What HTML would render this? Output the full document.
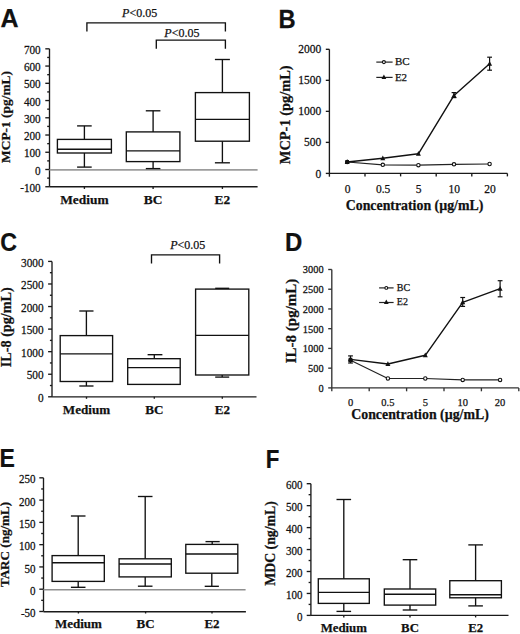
<!DOCTYPE html>
<html><head><meta charset="utf-8"><style>
html,body{margin:0;padding:0;background:#fff;}
body{width:520px;height:634px;overflow:hidden;font-family:"Liberation Serif", serif;}
svg{display:block;}
text{stroke:#1a1a1a;stroke-width:0.25px;paint-order:stroke;}
</style></head><body>
<svg width="520" height="634" viewBox="0 0 520 634" fill="#111">
<text x="0" y="0" transform="translate(0.50,27.00) scale(1.0,1)" font-family="&quot;Liberation Sans&quot;, sans-serif" font-size="25" font-weight="bold">A</text>
<line x1="49.50" y1="48.82" x2="49.50" y2="186.74" stroke="#1a1a1a" stroke-width="1.35"/>
<line x1="45.30" y1="48.82" x2="49.50" y2="48.82" stroke="#1a1a1a" stroke-width="1.35"/>
<text x="0" y="0" transform="translate(40.70,53.92) scale(1,1.05)" font-family="&quot;Liberation Serif&quot;, serif" font-size="11.2" font-weight="normal" text-anchor="end" >700</text>
<line x1="45.30" y1="66.06" x2="49.50" y2="66.06" stroke="#1a1a1a" stroke-width="1.35"/>
<text x="0" y="0" transform="translate(40.70,71.16) scale(1,1.05)" font-family="&quot;Liberation Serif&quot;, serif" font-size="11.2" font-weight="normal" text-anchor="end" >600</text>
<line x1="45.30" y1="83.30" x2="49.50" y2="83.30" stroke="#1a1a1a" stroke-width="1.35"/>
<text x="0" y="0" transform="translate(40.70,88.40) scale(1,1.05)" font-family="&quot;Liberation Serif&quot;, serif" font-size="11.2" font-weight="normal" text-anchor="end" >500</text>
<line x1="45.30" y1="100.54" x2="49.50" y2="100.54" stroke="#1a1a1a" stroke-width="1.35"/>
<text x="0" y="0" transform="translate(40.70,105.64) scale(1,1.05)" font-family="&quot;Liberation Serif&quot;, serif" font-size="11.2" font-weight="normal" text-anchor="end" >400</text>
<line x1="45.30" y1="117.78" x2="49.50" y2="117.78" stroke="#1a1a1a" stroke-width="1.35"/>
<text x="0" y="0" transform="translate(40.70,122.88) scale(1,1.05)" font-family="&quot;Liberation Serif&quot;, serif" font-size="11.2" font-weight="normal" text-anchor="end" >300</text>
<line x1="45.30" y1="135.02" x2="49.50" y2="135.02" stroke="#1a1a1a" stroke-width="1.35"/>
<text x="0" y="0" transform="translate(40.70,140.12) scale(1,1.05)" font-family="&quot;Liberation Serif&quot;, serif" font-size="11.2" font-weight="normal" text-anchor="end" >200</text>
<line x1="45.30" y1="152.26" x2="49.50" y2="152.26" stroke="#1a1a1a" stroke-width="1.35"/>
<text x="0" y="0" transform="translate(40.70,157.36) scale(1,1.05)" font-family="&quot;Liberation Serif&quot;, serif" font-size="11.2" font-weight="normal" text-anchor="end" >100</text>
<line x1="45.30" y1="169.50" x2="49.50" y2="169.50" stroke="#1a1a1a" stroke-width="1.35"/>
<text x="0" y="0" transform="translate(40.70,174.60) scale(1,1.05)" font-family="&quot;Liberation Serif&quot;, serif" font-size="11.2" font-weight="normal" text-anchor="end" >0</text>
<line x1="45.30" y1="186.74" x2="49.50" y2="186.74" stroke="#1a1a1a" stroke-width="1.35"/>
<text x="0" y="0" transform="translate(40.70,191.84) scale(1,1.05)" font-family="&quot;Liberation Serif&quot;, serif" font-size="11.2" font-weight="normal" text-anchor="end" >-100</text>
<line x1="47.20" y1="57.44" x2="49.50" y2="57.44" stroke="#1a1a1a" stroke-width="1.35"/>
<line x1="47.20" y1="74.68" x2="49.50" y2="74.68" stroke="#1a1a1a" stroke-width="1.35"/>
<line x1="47.20" y1="91.92" x2="49.50" y2="91.92" stroke="#1a1a1a" stroke-width="1.35"/>
<line x1="47.20" y1="109.16" x2="49.50" y2="109.16" stroke="#1a1a1a" stroke-width="1.35"/>
<line x1="47.20" y1="126.40" x2="49.50" y2="126.40" stroke="#1a1a1a" stroke-width="1.35"/>
<line x1="47.20" y1="143.64" x2="49.50" y2="143.64" stroke="#1a1a1a" stroke-width="1.35"/>
<line x1="47.20" y1="160.88" x2="49.50" y2="160.88" stroke="#1a1a1a" stroke-width="1.35"/>
<line x1="47.20" y1="178.12" x2="49.50" y2="178.12" stroke="#1a1a1a" stroke-width="1.35"/>
<line x1="49.50" y1="169.90" x2="257.60" y2="169.90" stroke="#9c9c9c" stroke-width="1.8"/>
<line x1="49.50" y1="186.74" x2="257.60" y2="186.74" stroke="#1a1a1a" stroke-width="1.35"/>
<line x1="84.40" y1="186.74" x2="84.40" y2="188.94" stroke="#1a1a1a" stroke-width="1.35"/>
<line x1="153.10" y1="186.74" x2="153.10" y2="188.94" stroke="#1a1a1a" stroke-width="1.35"/>
<line x1="222.40" y1="186.74" x2="222.40" y2="188.94" stroke="#1a1a1a" stroke-width="1.35"/>
<line x1="84.40" y1="125.90" x2="84.40" y2="139.40" stroke="#111" stroke-width="1.35"/>
<line x1="77.10" y1="125.90" x2="91.70" y2="125.90" stroke="#111" stroke-width="1.35"/>
<line x1="84.40" y1="153.00" x2="84.40" y2="167.10" stroke="#111" stroke-width="1.35"/>
<line x1="77.10" y1="167.10" x2="91.70" y2="167.10" stroke="#111" stroke-width="1.35"/>
<rect x="57.40" y="139.40" width="54.00" height="13.60" fill="none" stroke="#111" stroke-width="1.35"/>
<line x1="57.40" y1="149.20" x2="111.40" y2="149.20" stroke="#111" stroke-width="1.35"/>
<line x1="153.10" y1="110.80" x2="153.10" y2="131.90" stroke="#111" stroke-width="1.35"/>
<line x1="145.80" y1="110.80" x2="160.40" y2="110.80" stroke="#111" stroke-width="1.35"/>
<line x1="153.10" y1="161.60" x2="153.10" y2="168.60" stroke="#111" stroke-width="1.35"/>
<line x1="145.80" y1="168.60" x2="160.40" y2="168.60" stroke="#111" stroke-width="1.35"/>
<rect x="126.30" y="131.90" width="53.60" height="29.70" fill="none" stroke="#111" stroke-width="1.35"/>
<line x1="126.30" y1="150.90" x2="179.90" y2="150.90" stroke="#111" stroke-width="1.35"/>
<line x1="222.40" y1="59.50" x2="222.40" y2="92.60" stroke="#111" stroke-width="1.35"/>
<line x1="214.90" y1="59.50" x2="229.90" y2="59.50" stroke="#111" stroke-width="1.35"/>
<line x1="222.40" y1="141.20" x2="222.40" y2="162.80" stroke="#111" stroke-width="1.35"/>
<line x1="214.90" y1="162.80" x2="229.90" y2="162.80" stroke="#111" stroke-width="1.35"/>
<rect x="195.40" y="92.60" width="54.00" height="48.60" fill="none" stroke="#111" stroke-width="1.35"/>
<line x1="195.40" y1="119.40" x2="249.40" y2="119.40" stroke="#111" stroke-width="1.35"/>
<text x="84.40" y="204.00" font-family="&quot;Liberation Serif&quot;, serif" font-size="13.4" font-weight="bold" text-anchor="middle" >Medium</text>
<text x="153.10" y="204.00" font-family="&quot;Liberation Serif&quot;, serif" font-size="13.4" font-weight="bold" text-anchor="middle" >BC</text>
<text x="222.40" y="204.00" font-family="&quot;Liberation Serif&quot;, serif" font-size="13.4" font-weight="bold" text-anchor="middle" >E2</text>
<text x="0" y="0" transform="translate(10.10,117.00) rotate(-90)" font-family="&quot;Liberation Serif&quot;, serif" font-size="13.4" font-weight="bold" text-anchor="middle">MCP-1 (pg/mL)</text>
<polyline points="86.90,31.50 86.90,22.80 225.40,22.80 225.40,31.50" fill="none" stroke="#111" stroke-width="1.35"/>
<text x="139.60" y="16.80" font-family="&quot;Liberation Serif&quot;, serif" font-size="12" text-anchor="middle"><tspan font-style="italic">P</tspan>&lt;0.05</text>
<polyline points="156.30,48.70 156.30,40.10 225.40,40.10 225.40,48.70" fill="none" stroke="#111" stroke-width="1.35"/>
<text x="181.90" y="36.60" font-family="&quot;Liberation Serif&quot;, serif" font-size="12" text-anchor="middle"><tspan font-style="italic">P</tspan>&lt;0.05</text>
<text x="0" y="0" transform="translate(278.50,27.80) scale(0.92,1)" font-family="&quot;Liberation Sans&quot;, sans-serif" font-size="25.8" font-weight="bold">B</text>
<line x1="329.40" y1="49.30" x2="329.40" y2="176.70" stroke="#1a1a1a" stroke-width="1.35"/>
<line x1="325.80" y1="49.30" x2="329.40" y2="49.30" stroke="#1a1a1a" stroke-width="1.35"/>
<text x="0" y="0" transform="translate(321.20,53.40) scale(1,1.05)" font-family="&quot;Liberation Serif&quot;, serif" font-size="11.5" font-weight="normal" text-anchor="end" >2000</text>
<line x1="325.80" y1="80.33" x2="329.40" y2="80.33" stroke="#1a1a1a" stroke-width="1.35"/>
<text x="0" y="0" transform="translate(321.20,84.42) scale(1,1.05)" font-family="&quot;Liberation Serif&quot;, serif" font-size="11.5" font-weight="normal" text-anchor="end" >1500</text>
<line x1="325.80" y1="111.35" x2="329.40" y2="111.35" stroke="#1a1a1a" stroke-width="1.35"/>
<text x="0" y="0" transform="translate(321.20,115.45) scale(1,1.05)" font-family="&quot;Liberation Serif&quot;, serif" font-size="11.5" font-weight="normal" text-anchor="end" >1000</text>
<line x1="325.80" y1="142.38" x2="329.40" y2="142.38" stroke="#1a1a1a" stroke-width="1.35"/>
<text x="0" y="0" transform="translate(321.20,146.47) scale(1,1.05)" font-family="&quot;Liberation Serif&quot;, serif" font-size="11.5" font-weight="normal" text-anchor="end" >500</text>
<line x1="325.80" y1="173.40" x2="329.40" y2="173.40" stroke="#1a1a1a" stroke-width="1.35"/>
<text x="0" y="0" transform="translate(321.20,177.50) scale(1,1.05)" font-family="&quot;Liberation Serif&quot;, serif" font-size="11.5" font-weight="normal" text-anchor="end" >0</text>
<line x1="329.40" y1="173.40" x2="507.40" y2="173.40" stroke="#1a1a1a" stroke-width="1.35"/>
<line x1="365.00" y1="173.40" x2="365.00" y2="176.40" stroke="#1a1a1a" stroke-width="1.35"/>
<line x1="400.60" y1="173.40" x2="400.60" y2="176.40" stroke="#1a1a1a" stroke-width="1.35"/>
<line x1="436.20" y1="173.40" x2="436.20" y2="176.40" stroke="#1a1a1a" stroke-width="1.35"/>
<line x1="471.80" y1="173.40" x2="471.80" y2="176.40" stroke="#1a1a1a" stroke-width="1.35"/>
<line x1="507.40" y1="173.40" x2="507.40" y2="176.40" stroke="#1a1a1a" stroke-width="1.35"/>
<text x="347.50" y="192.60" font-family="&quot;Liberation Serif&quot;, serif" font-size="11.5" font-weight="normal" text-anchor="middle" >0</text>
<text x="383.10" y="192.60" font-family="&quot;Liberation Serif&quot;, serif" font-size="11.5" font-weight="normal" text-anchor="middle" >0.5</text>
<text x="418.70" y="192.60" font-family="&quot;Liberation Serif&quot;, serif" font-size="11.5" font-weight="normal" text-anchor="middle" >5</text>
<text x="454.30" y="192.60" font-family="&quot;Liberation Serif&quot;, serif" font-size="11.5" font-weight="normal" text-anchor="middle" >10</text>
<text x="489.90" y="192.60" font-family="&quot;Liberation Serif&quot;, serif" font-size="11.5" font-weight="normal" text-anchor="middle" >20</text>
<text x="414.50" y="209.90" font-family="&quot;Liberation Serif&quot;, serif" font-size="13.85" font-weight="bold" text-anchor="middle" >Concentration (µg/mL)</text>
<text x="0" y="0" transform="translate(290.20,114.80) rotate(-90)" font-family="&quot;Liberation Serif&quot;, serif" font-size="14.4" font-weight="bold" text-anchor="middle">MCP-1 (pg/mL)</text>
<line x1="489.60" y1="57.20" x2="489.60" y2="70.20" stroke="#111" stroke-width="1.2"/>
<line x1="487.20" y1="57.20" x2="492.00" y2="57.20" stroke="#111" stroke-width="1.2"/>
<line x1="487.20" y1="70.20" x2="492.00" y2="70.20" stroke="#111" stroke-width="1.2"/>
<line x1="454.00" y1="92.60" x2="454.00" y2="97.60" stroke="#111" stroke-width="1.2"/>
<line x1="451.60" y1="92.60" x2="456.40" y2="92.60" stroke="#111" stroke-width="1.2"/>
<line x1="451.60" y1="97.60" x2="456.40" y2="97.60" stroke="#111" stroke-width="1.2"/>
<polyline points="347.20,162.00 382.80,164.80 418.40,165.20 454.00,164.30 489.60,164.00" fill="none" stroke="#222" stroke-width="1.2" stroke-linejoin="round"/>
<polyline points="347.20,162.00 382.80,158.30 418.40,153.80 454.00,95.40 489.60,63.80" fill="none" stroke="#111" stroke-width="1.4" stroke-linejoin="round"/>
<circle cx="347.20" cy="162.00" r="1.70" fill="#fff" stroke="#111" stroke-width="1.1"/>
<circle cx="382.80" cy="164.80" r="1.70" fill="#fff" stroke="#111" stroke-width="1.1"/>
<circle cx="418.40" cy="165.20" r="1.70" fill="#fff" stroke="#111" stroke-width="1.1"/>
<circle cx="454.00" cy="164.30" r="1.70" fill="#fff" stroke="#111" stroke-width="1.1"/>
<circle cx="489.60" cy="164.00" r="1.70" fill="#fff" stroke="#111" stroke-width="1.1"/>
<polygon points="347.20,159.25 349.70,164.00 344.70,164.00" fill="#111"/>
<polygon points="382.80,155.55 385.30,160.30 380.30,160.30" fill="#111"/>
<polygon points="418.40,151.05 420.90,155.80 415.90,155.80" fill="#111"/>
<polygon points="454.00,92.65 456.50,97.40 451.50,97.40" fill="#111"/>
<polygon points="489.60,61.05 492.10,65.80 487.10,65.80" fill="#111"/>
<rect x="345.40" y="160.20" width="3.60" height="3.60" fill="#111"/>
<line x1="376.30" y1="62.10" x2="392.60" y2="62.10" stroke="#222" stroke-width="1.2"/>
<circle cx="383.90" cy="62.10" r="1.50" fill="#fff" stroke="#111" stroke-width="1.1"/>
<line x1="376.30" y1="77.40" x2="392.60" y2="77.40" stroke="#222" stroke-width="1.2"/>
<polygon points="383.90,74.59 386.27,79.10 381.52,79.10" fill="#111"/>
<text x="394.90" y="65.00" font-family="&quot;Liberation Serif&quot;, serif" font-size="11" font-weight="normal" text-anchor="start" >BC</text>
<text x="394.90" y="80.50" font-family="&quot;Liberation Serif&quot;, serif" font-size="11" font-weight="normal" text-anchor="start" >E2</text>
<text x="0" y="0" transform="translate(0.30,251.30) scale(0.9,1)" font-family="&quot;Liberation Sans&quot;, sans-serif" font-size="25.8" font-weight="bold">C</text>
<line x1="52.00" y1="261.41" x2="52.00" y2="396.80" stroke="#1a1a1a" stroke-width="1.35"/>
<line x1="48.10" y1="261.41" x2="52.00" y2="261.41" stroke="#1a1a1a" stroke-width="1.35"/>
<text x="0" y="0" transform="translate(43.60,266.66) scale(1,1.05)" font-family="&quot;Liberation Serif&quot;, serif" font-size="11.3" font-weight="normal" text-anchor="end" >3000</text>
<line x1="48.10" y1="283.98" x2="52.00" y2="283.98" stroke="#1a1a1a" stroke-width="1.35"/>
<text x="0" y="0" transform="translate(43.60,289.23) scale(1,1.05)" font-family="&quot;Liberation Serif&quot;, serif" font-size="11.3" font-weight="normal" text-anchor="end" >2500</text>
<line x1="48.10" y1="306.54" x2="52.00" y2="306.54" stroke="#1a1a1a" stroke-width="1.35"/>
<text x="0" y="0" transform="translate(43.60,311.79) scale(1,1.05)" font-family="&quot;Liberation Serif&quot;, serif" font-size="11.3" font-weight="normal" text-anchor="end" >2000</text>
<line x1="48.10" y1="329.11" x2="52.00" y2="329.11" stroke="#1a1a1a" stroke-width="1.35"/>
<text x="0" y="0" transform="translate(43.60,334.36) scale(1,1.05)" font-family="&quot;Liberation Serif&quot;, serif" font-size="11.3" font-weight="normal" text-anchor="end" >1500</text>
<line x1="48.10" y1="351.67" x2="52.00" y2="351.67" stroke="#1a1a1a" stroke-width="1.35"/>
<text x="0" y="0" transform="translate(43.60,356.92) scale(1,1.05)" font-family="&quot;Liberation Serif&quot;, serif" font-size="11.3" font-weight="normal" text-anchor="end" >1000</text>
<line x1="48.10" y1="374.24" x2="52.00" y2="374.24" stroke="#1a1a1a" stroke-width="1.35"/>
<text x="0" y="0" transform="translate(43.60,379.49) scale(1,1.05)" font-family="&quot;Liberation Serif&quot;, serif" font-size="11.3" font-weight="normal" text-anchor="end" >500</text>
<line x1="48.10" y1="396.80" x2="52.00" y2="396.80" stroke="#1a1a1a" stroke-width="1.35"/>
<text x="0" y="0" transform="translate(43.60,402.05) scale(1,1.05)" font-family="&quot;Liberation Serif&quot;, serif" font-size="11.3" font-weight="normal" text-anchor="end" >0</text>
<line x1="49.90" y1="272.69" x2="52.00" y2="272.69" stroke="#1a1a1a" stroke-width="1.35"/>
<line x1="49.90" y1="295.26" x2="52.00" y2="295.26" stroke="#1a1a1a" stroke-width="1.35"/>
<line x1="49.90" y1="317.82" x2="52.00" y2="317.82" stroke="#1a1a1a" stroke-width="1.35"/>
<line x1="49.90" y1="340.39" x2="52.00" y2="340.39" stroke="#1a1a1a" stroke-width="1.35"/>
<line x1="49.90" y1="362.95" x2="52.00" y2="362.95" stroke="#1a1a1a" stroke-width="1.35"/>
<line x1="49.90" y1="385.52" x2="52.00" y2="385.52" stroke="#1a1a1a" stroke-width="1.35"/>
<line x1="52.00" y1="396.80" x2="256.50" y2="396.80" stroke="#1a1a1a" stroke-width="1.35"/>
<line x1="86.50" y1="396.80" x2="86.50" y2="398.80" stroke="#1a1a1a" stroke-width="1.35"/>
<line x1="154.30" y1="396.80" x2="154.30" y2="398.80" stroke="#1a1a1a" stroke-width="1.35"/>
<line x1="222.30" y1="396.80" x2="222.30" y2="398.80" stroke="#1a1a1a" stroke-width="1.35"/>
<line x1="86.40" y1="311.00" x2="86.40" y2="335.60" stroke="#111" stroke-width="1.35"/>
<line x1="79.30" y1="311.00" x2="93.50" y2="311.00" stroke="#111" stroke-width="1.35"/>
<line x1="86.40" y1="381.50" x2="86.40" y2="386.00" stroke="#111" stroke-width="1.35"/>
<line x1="79.30" y1="386.00" x2="93.50" y2="386.00" stroke="#111" stroke-width="1.35"/>
<rect x="60.20" y="335.60" width="52.40" height="45.90" fill="none" stroke="#111" stroke-width="1.35"/>
<line x1="60.20" y1="353.80" x2="112.60" y2="353.80" stroke="#111" stroke-width="1.35"/>
<line x1="154.30" y1="354.70" x2="154.30" y2="358.70" stroke="#111" stroke-width="1.35"/>
<line x1="147.60" y1="354.70" x2="162.40" y2="354.70" stroke="#111" stroke-width="1.35"/>
<rect x="127.70" y="358.70" width="52.50" height="25.70" fill="none" stroke="#111" stroke-width="1.35"/>
<line x1="127.70" y1="367.60" x2="180.20" y2="367.60" stroke="#111" stroke-width="1.35"/>
<line x1="222.20" y1="288.30" x2="222.20" y2="289.10" stroke="#111" stroke-width="1.35"/>
<line x1="215.20" y1="288.30" x2="229.20" y2="288.30" stroke="#111" stroke-width="1.35"/>
<line x1="222.20" y1="375.00" x2="222.20" y2="377.10" stroke="#111" stroke-width="1.35"/>
<line x1="215.20" y1="377.10" x2="229.20" y2="377.10" stroke="#111" stroke-width="1.35"/>
<rect x="195.60" y="289.10" width="53.20" height="85.90" fill="none" stroke="#111" stroke-width="1.35"/>
<line x1="195.60" y1="335.30" x2="248.80" y2="335.30" stroke="#111" stroke-width="1.35"/>
<text x="86.50" y="414.40" font-family="&quot;Liberation Serif&quot;, serif" font-size="13.1" font-weight="bold" text-anchor="middle" >Medium</text>
<text x="154.30" y="414.40" font-family="&quot;Liberation Serif&quot;, serif" font-size="13.1" font-weight="bold" text-anchor="middle" >BC</text>
<text x="222.30" y="414.40" font-family="&quot;Liberation Serif&quot;, serif" font-size="13.1" font-weight="bold" text-anchor="middle" >E2</text>
<text x="0" y="0" transform="translate(10.60,327.20) rotate(-90)" font-family="&quot;Liberation Serif&quot;, serif" font-size="14.2" font-weight="bold" text-anchor="middle">IL-8 (pg/mL)</text>
<polyline points="151.50,263.40 151.50,254.90 219.60,254.90 219.60,263.40" fill="none" stroke="#111" stroke-width="1.35"/>
<text x="187.80" y="249.30" font-family="&quot;Liberation Serif&quot;, serif" font-size="12" text-anchor="middle"><tspan font-style="italic">P</tspan>&lt;0.05</text>
<text x="0" y="0" transform="translate(284.90,251.20) scale(0.93,1)" font-family="&quot;Liberation Sans&quot;, sans-serif" font-size="25.8" font-weight="bold">D</text>
<line x1="331.80" y1="269.49" x2="331.80" y2="391.30" stroke="#333" stroke-width="1.35"/>
<line x1="328.20" y1="269.49" x2="331.80" y2="269.49" stroke="#333" stroke-width="1.35"/>
<text x="0" y="0" transform="translate(323.60,273.49) scale(1,1.05)" font-family="&quot;Liberation Serif&quot;, serif" font-size="10.4" font-weight="normal" text-anchor="end" >3000</text>
<line x1="328.20" y1="289.22" x2="331.80" y2="289.22" stroke="#333" stroke-width="1.35"/>
<text x="0" y="0" transform="translate(323.60,293.22) scale(1,1.05)" font-family="&quot;Liberation Serif&quot;, serif" font-size="10.4" font-weight="normal" text-anchor="end" >2500</text>
<line x1="328.20" y1="308.96" x2="331.80" y2="308.96" stroke="#333" stroke-width="1.35"/>
<text x="0" y="0" transform="translate(323.60,312.96) scale(1,1.05)" font-family="&quot;Liberation Serif&quot;, serif" font-size="10.4" font-weight="normal" text-anchor="end" >2000</text>
<line x1="328.20" y1="328.69" x2="331.80" y2="328.69" stroke="#333" stroke-width="1.35"/>
<text x="0" y="0" transform="translate(323.60,332.69) scale(1,1.05)" font-family="&quot;Liberation Serif&quot;, serif" font-size="10.4" font-weight="normal" text-anchor="end" >1500</text>
<line x1="328.20" y1="348.43" x2="331.80" y2="348.43" stroke="#333" stroke-width="1.35"/>
<text x="0" y="0" transform="translate(323.60,352.43) scale(1,1.05)" font-family="&quot;Liberation Serif&quot;, serif" font-size="10.4" font-weight="normal" text-anchor="end" >1000</text>
<line x1="328.20" y1="368.16" x2="331.80" y2="368.16" stroke="#333" stroke-width="1.35"/>
<text x="0" y="0" transform="translate(323.60,372.16) scale(1,1.05)" font-family="&quot;Liberation Serif&quot;, serif" font-size="10.4" font-weight="normal" text-anchor="end" >500</text>
<line x1="328.20" y1="387.90" x2="331.80" y2="387.90" stroke="#333" stroke-width="1.35"/>
<text x="0" y="0" transform="translate(323.60,391.90) scale(1,1.05)" font-family="&quot;Liberation Serif&quot;, serif" font-size="10.4" font-weight="normal" text-anchor="end" >0</text>
<line x1="331.80" y1="387.90" x2="518.80" y2="387.90" stroke="#333" stroke-width="1.35"/>
<line x1="369.20" y1="387.90" x2="369.20" y2="391.30" stroke="#333" stroke-width="1.35"/>
<line x1="406.60" y1="387.90" x2="406.60" y2="391.30" stroke="#333" stroke-width="1.35"/>
<line x1="444.00" y1="387.90" x2="444.00" y2="391.30" stroke="#333" stroke-width="1.35"/>
<line x1="481.40" y1="387.90" x2="481.40" y2="391.30" stroke="#333" stroke-width="1.35"/>
<line x1="518.80" y1="387.90" x2="518.80" y2="391.30" stroke="#333" stroke-width="1.35"/>
<text x="350.50" y="405.80" font-family="&quot;Liberation Serif&quot;, serif" font-size="10.5" font-weight="normal" text-anchor="middle" >0</text>
<text x="387.90" y="405.80" font-family="&quot;Liberation Serif&quot;, serif" font-size="10.5" font-weight="normal" text-anchor="middle" >0.5</text>
<text x="425.30" y="405.80" font-family="&quot;Liberation Serif&quot;, serif" font-size="10.5" font-weight="normal" text-anchor="middle" >5</text>
<text x="462.70" y="405.80" font-family="&quot;Liberation Serif&quot;, serif" font-size="10.5" font-weight="normal" text-anchor="middle" >10</text>
<text x="500.10" y="405.80" font-family="&quot;Liberation Serif&quot;, serif" font-size="10.5" font-weight="normal" text-anchor="middle" >20</text>
<text x="420.00" y="419.20" font-family="&quot;Liberation Serif&quot;, serif" font-size="13.85" font-weight="bold" text-anchor="middle" >Concentration (µg/mL)</text>
<text x="0" y="0" transform="translate(295.50,321.00) rotate(-90)" font-family="&quot;Liberation Serif&quot;, serif" font-size="15" font-weight="bold" text-anchor="middle">IL-8 (pg/mL)</text>
<line x1="350.50" y1="355.90" x2="350.50" y2="363.00" stroke="#111" stroke-width="1.2"/>
<line x1="348.10" y1="355.90" x2="352.90" y2="355.90" stroke="#111" stroke-width="1.2"/>
<line x1="348.10" y1="363.00" x2="352.90" y2="363.00" stroke="#111" stroke-width="1.2"/>
<line x1="462.70" y1="297.50" x2="462.70" y2="306.40" stroke="#111" stroke-width="1.2"/>
<line x1="460.30" y1="297.50" x2="465.10" y2="297.50" stroke="#111" stroke-width="1.2"/>
<line x1="460.30" y1="306.40" x2="465.10" y2="306.40" stroke="#111" stroke-width="1.2"/>
<line x1="500.10" y1="280.70" x2="500.10" y2="296.80" stroke="#111" stroke-width="1.2"/>
<line x1="497.70" y1="280.70" x2="502.50" y2="280.70" stroke="#111" stroke-width="1.2"/>
<line x1="497.70" y1="296.80" x2="502.50" y2="296.80" stroke="#111" stroke-width="1.2"/>
<polyline points="350.50,360.20 387.90,378.50 425.30,378.50 462.70,379.90 500.10,379.90" fill="none" stroke="#222" stroke-width="1.2" stroke-linejoin="round"/>
<polyline points="350.50,359.40 387.90,364.00 425.30,355.30 462.70,302.30 500.10,288.70" fill="none" stroke="#111" stroke-width="1.4" stroke-linejoin="round"/>
<circle cx="350.50" cy="360.20" r="1.70" fill="#fff" stroke="#111" stroke-width="1.1"/>
<circle cx="387.90" cy="378.50" r="1.70" fill="#fff" stroke="#111" stroke-width="1.1"/>
<circle cx="425.30" cy="378.50" r="1.70" fill="#fff" stroke="#111" stroke-width="1.1"/>
<circle cx="462.70" cy="379.90" r="1.70" fill="#fff" stroke="#111" stroke-width="1.1"/>
<circle cx="500.10" cy="379.90" r="1.70" fill="#fff" stroke="#111" stroke-width="1.1"/>
<polygon points="350.50,356.65 353.00,361.40 348.00,361.40" fill="#111"/>
<polygon points="387.90,361.25 390.40,366.00 385.40,366.00" fill="#111"/>
<polygon points="425.30,352.55 427.80,357.30 422.80,357.30" fill="#111"/>
<polygon points="462.70,299.55 465.20,304.30 460.20,304.30" fill="#111"/>
<polygon points="500.10,285.95 502.60,290.70 497.60,290.70" fill="#111"/>
<rect x="348.70" y="357.80" width="3.60" height="3.60" fill="#111"/>
<line x1="379.10" y1="287.90" x2="393.60" y2="287.90" stroke="#222" stroke-width="1.2"/>
<circle cx="386.30" cy="287.90" r="1.40" fill="#fff" stroke="#111" stroke-width="1.1"/>
<line x1="379.10" y1="302.50" x2="393.60" y2="302.50" stroke="#222" stroke-width="1.2"/>
<polygon points="386.30,299.59 388.68,304.10 383.93,304.10" fill="#111"/>
<text x="396.80" y="291.20" font-family="&quot;Liberation Serif&quot;, serif" font-size="10.0" font-weight="normal" text-anchor="start" >BC</text>
<text x="396.80" y="305.10" font-family="&quot;Liberation Serif&quot;, serif" font-size="10.0" font-weight="normal" text-anchor="start" >E2</text>
<text x="0" y="0" transform="translate(-0.40,467.40) scale(0.91,1)" font-family="&quot;Liberation Sans&quot;, sans-serif" font-size="25.3" font-weight="bold">E</text>
<line x1="43.50" y1="477.83" x2="43.50" y2="611.48" stroke="#1a1a1a" stroke-width="1.35"/>
<line x1="39.30" y1="477.83" x2="43.50" y2="477.83" stroke="#1a1a1a" stroke-width="1.35"/>
<text x="0" y="0" transform="translate(35.60,483.43) scale(1,1.05)" font-family="&quot;Liberation Serif&quot;, serif" font-size="11" font-weight="normal" text-anchor="end" >250</text>
<line x1="39.30" y1="500.10" x2="43.50" y2="500.10" stroke="#1a1a1a" stroke-width="1.35"/>
<text x="0" y="0" transform="translate(35.60,505.70) scale(1,1.05)" font-family="&quot;Liberation Serif&quot;, serif" font-size="11" font-weight="normal" text-anchor="end" >200</text>
<line x1="39.30" y1="522.38" x2="43.50" y2="522.38" stroke="#1a1a1a" stroke-width="1.35"/>
<text x="0" y="0" transform="translate(35.60,527.98) scale(1,1.05)" font-family="&quot;Liberation Serif&quot;, serif" font-size="11" font-weight="normal" text-anchor="end" >150</text>
<line x1="39.30" y1="544.65" x2="43.50" y2="544.65" stroke="#1a1a1a" stroke-width="1.35"/>
<text x="0" y="0" transform="translate(35.60,550.25) scale(1,1.05)" font-family="&quot;Liberation Serif&quot;, serif" font-size="11" font-weight="normal" text-anchor="end" >100</text>
<line x1="39.30" y1="566.93" x2="43.50" y2="566.93" stroke="#1a1a1a" stroke-width="1.35"/>
<text x="0" y="0" transform="translate(35.60,572.53) scale(1,1.05)" font-family="&quot;Liberation Serif&quot;, serif" font-size="11" font-weight="normal" text-anchor="end" >50</text>
<line x1="39.30" y1="589.20" x2="43.50" y2="589.20" stroke="#1a1a1a" stroke-width="1.35"/>
<text x="0" y="0" transform="translate(35.60,594.80) scale(1,1.05)" font-family="&quot;Liberation Serif&quot;, serif" font-size="11" font-weight="normal" text-anchor="end" >0</text>
<line x1="39.30" y1="611.48" x2="43.50" y2="611.48" stroke="#1a1a1a" stroke-width="1.35"/>
<text x="0" y="0" transform="translate(35.60,617.08) scale(1,1.05)" font-family="&quot;Liberation Serif&quot;, serif" font-size="11" font-weight="normal" text-anchor="end" >-50</text>
<line x1="41.20" y1="488.96" x2="43.50" y2="488.96" stroke="#1a1a1a" stroke-width="1.35"/>
<line x1="41.20" y1="511.24" x2="43.50" y2="511.24" stroke="#1a1a1a" stroke-width="1.35"/>
<line x1="41.20" y1="533.51" x2="43.50" y2="533.51" stroke="#1a1a1a" stroke-width="1.35"/>
<line x1="41.20" y1="555.79" x2="43.50" y2="555.79" stroke="#1a1a1a" stroke-width="1.35"/>
<line x1="41.20" y1="578.06" x2="43.50" y2="578.06" stroke="#1a1a1a" stroke-width="1.35"/>
<line x1="41.20" y1="600.34" x2="43.50" y2="600.34" stroke="#1a1a1a" stroke-width="1.35"/>
<line x1="43.50" y1="589.70" x2="245.60" y2="589.70" stroke="#8f8f8f" stroke-width="1.4"/>
<line x1="43.50" y1="611.70" x2="245.90" y2="611.70" stroke="#1a1a1a" stroke-width="1.35"/>
<line x1="78.40" y1="611.48" x2="78.40" y2="613.48" stroke="#1a1a1a" stroke-width="1.35"/>
<line x1="145.60" y1="611.48" x2="145.60" y2="613.48" stroke="#1a1a1a" stroke-width="1.35"/>
<line x1="212.00" y1="611.48" x2="212.00" y2="613.48" stroke="#1a1a1a" stroke-width="1.35"/>
<line x1="78.20" y1="516.00" x2="78.20" y2="555.60" stroke="#111" stroke-width="1.35"/>
<line x1="70.90" y1="516.00" x2="85.50" y2="516.00" stroke="#111" stroke-width="1.35"/>
<line x1="78.20" y1="581.40" x2="78.20" y2="587.30" stroke="#111" stroke-width="1.35"/>
<line x1="70.90" y1="587.30" x2="85.50" y2="587.30" stroke="#111" stroke-width="1.35"/>
<rect x="52.10" y="555.60" width="52.20" height="25.80" fill="none" stroke="#111" stroke-width="1.35"/>
<line x1="52.10" y1="562.70" x2="104.30" y2="562.70" stroke="#111" stroke-width="1.35"/>
<line x1="145.20" y1="496.50" x2="145.20" y2="558.80" stroke="#111" stroke-width="1.35"/>
<line x1="137.90" y1="496.50" x2="152.50" y2="496.50" stroke="#111" stroke-width="1.35"/>
<line x1="145.20" y1="576.90" x2="145.20" y2="586.20" stroke="#111" stroke-width="1.35"/>
<line x1="137.90" y1="586.20" x2="152.50" y2="586.20" stroke="#111" stroke-width="1.35"/>
<rect x="119.10" y="558.80" width="52.20" height="18.10" fill="none" stroke="#111" stroke-width="1.35"/>
<line x1="119.10" y1="564.00" x2="171.30" y2="564.00" stroke="#111" stroke-width="1.35"/>
<line x1="212.20" y1="541.60" x2="212.20" y2="544.40" stroke="#111" stroke-width="1.35"/>
<line x1="205.50" y1="541.60" x2="219.70" y2="541.60" stroke="#111" stroke-width="1.35"/>
<line x1="211.80" y1="573.20" x2="211.80" y2="586.30" stroke="#111" stroke-width="1.35"/>
<line x1="204.70" y1="586.30" x2="218.90" y2="586.30" stroke="#111" stroke-width="1.35"/>
<rect x="185.80" y="544.40" width="52.00" height="28.80" fill="none" stroke="#111" stroke-width="1.35"/>
<line x1="185.80" y1="554.00" x2="237.80" y2="554.00" stroke="#111" stroke-width="1.35"/>
<text x="78.40" y="628.30" font-family="&quot;Liberation Serif&quot;, serif" font-size="13" font-weight="bold" text-anchor="middle" >Medium</text>
<text x="145.60" y="628.30" font-family="&quot;Liberation Serif&quot;, serif" font-size="13" font-weight="bold" text-anchor="middle" >BC</text>
<text x="212.00" y="628.30" font-family="&quot;Liberation Serif&quot;, serif" font-size="13" font-weight="bold" text-anchor="middle" >E2</text>
<text x="0" y="0" transform="translate(8.80,544.50) rotate(-90)" font-family="&quot;Liberation Serif&quot;, serif" font-size="13.1" font-weight="bold" text-anchor="middle">TARC (ng/mL)</text>
<text x="0" y="0" transform="translate(265.80,468.10) scale(0.88,1)" font-family="&quot;Liberation Sans&quot;, sans-serif" font-size="25.3" font-weight="bold">F</text>
<line x1="310.90" y1="483.70" x2="310.90" y2="615.40" stroke="#1a1a1a" stroke-width="1.35"/>
<line x1="306.70" y1="483.70" x2="310.90" y2="483.70" stroke="#1a1a1a" stroke-width="1.35"/>
<text x="0" y="0" transform="translate(302.40,489.00) scale(1,1.05)" font-family="&quot;Liberation Serif&quot;, serif" font-size="11" font-weight="normal" text-anchor="end" >600</text>
<line x1="306.70" y1="505.65" x2="310.90" y2="505.65" stroke="#1a1a1a" stroke-width="1.35"/>
<text x="0" y="0" transform="translate(302.40,510.95) scale(1,1.05)" font-family="&quot;Liberation Serif&quot;, serif" font-size="11" font-weight="normal" text-anchor="end" >500</text>
<line x1="306.70" y1="527.60" x2="310.90" y2="527.60" stroke="#1a1a1a" stroke-width="1.35"/>
<text x="0" y="0" transform="translate(302.40,532.90) scale(1,1.05)" font-family="&quot;Liberation Serif&quot;, serif" font-size="11" font-weight="normal" text-anchor="end" >400</text>
<line x1="306.70" y1="549.55" x2="310.90" y2="549.55" stroke="#1a1a1a" stroke-width="1.35"/>
<text x="0" y="0" transform="translate(302.40,554.85) scale(1,1.05)" font-family="&quot;Liberation Serif&quot;, serif" font-size="11" font-weight="normal" text-anchor="end" >300</text>
<line x1="306.70" y1="571.50" x2="310.90" y2="571.50" stroke="#1a1a1a" stroke-width="1.35"/>
<text x="0" y="0" transform="translate(302.40,576.80) scale(1,1.05)" font-family="&quot;Liberation Serif&quot;, serif" font-size="11" font-weight="normal" text-anchor="end" >200</text>
<line x1="306.70" y1="593.45" x2="310.90" y2="593.45" stroke="#1a1a1a" stroke-width="1.35"/>
<text x="0" y="0" transform="translate(302.40,598.75) scale(1,1.05)" font-family="&quot;Liberation Serif&quot;, serif" font-size="11" font-weight="normal" text-anchor="end" >100</text>
<line x1="306.70" y1="615.40" x2="310.90" y2="615.40" stroke="#1a1a1a" stroke-width="1.35"/>
<text x="0" y="0" transform="translate(302.40,620.70) scale(1,1.05)" font-family="&quot;Liberation Serif&quot;, serif" font-size="11" font-weight="normal" text-anchor="end" >0</text>
<line x1="308.60" y1="494.67" x2="310.90" y2="494.67" stroke="#1a1a1a" stroke-width="1.35"/>
<line x1="308.60" y1="516.62" x2="310.90" y2="516.62" stroke="#1a1a1a" stroke-width="1.35"/>
<line x1="308.60" y1="538.57" x2="310.90" y2="538.57" stroke="#1a1a1a" stroke-width="1.35"/>
<line x1="308.60" y1="560.52" x2="310.90" y2="560.52" stroke="#1a1a1a" stroke-width="1.35"/>
<line x1="308.60" y1="582.48" x2="310.90" y2="582.48" stroke="#1a1a1a" stroke-width="1.35"/>
<line x1="308.60" y1="604.42" x2="310.90" y2="604.42" stroke="#1a1a1a" stroke-width="1.35"/>
<line x1="310.90" y1="615.40" x2="508.50" y2="615.40" stroke="#1a1a1a" stroke-width="1.35"/>
<line x1="343.80" y1="615.40" x2="343.80" y2="617.40" stroke="#1a1a1a" stroke-width="1.35"/>
<line x1="410.00" y1="615.40" x2="410.00" y2="617.40" stroke="#1a1a1a" stroke-width="1.35"/>
<line x1="475.60" y1="615.40" x2="475.60" y2="617.40" stroke="#1a1a1a" stroke-width="1.35"/>
<line x1="343.80" y1="499.50" x2="343.80" y2="578.80" stroke="#111" stroke-width="1.35"/>
<line x1="336.50" y1="499.50" x2="351.10" y2="499.50" stroke="#111" stroke-width="1.35"/>
<line x1="343.80" y1="603.40" x2="343.80" y2="611.40" stroke="#111" stroke-width="1.35"/>
<line x1="336.50" y1="611.40" x2="351.10" y2="611.40" stroke="#111" stroke-width="1.35"/>
<rect x="318.30" y="578.80" width="51.00" height="24.60" fill="none" stroke="#111" stroke-width="1.35"/>
<line x1="318.30" y1="592.30" x2="369.30" y2="592.30" stroke="#111" stroke-width="1.35"/>
<line x1="410.00" y1="559.70" x2="410.00" y2="589.00" stroke="#111" stroke-width="1.35"/>
<line x1="402.70" y1="559.70" x2="417.30" y2="559.70" stroke="#111" stroke-width="1.35"/>
<line x1="410.00" y1="605.10" x2="410.00" y2="610.00" stroke="#111" stroke-width="1.35"/>
<line x1="402.70" y1="610.00" x2="417.30" y2="610.00" stroke="#111" stroke-width="1.35"/>
<rect x="384.30" y="589.00" width="51.40" height="16.10" fill="none" stroke="#111" stroke-width="1.35"/>
<line x1="384.30" y1="594.20" x2="435.70" y2="594.20" stroke="#111" stroke-width="1.35"/>
<line x1="475.60" y1="544.90" x2="475.60" y2="580.70" stroke="#111" stroke-width="1.35"/>
<line x1="468.30" y1="544.90" x2="482.90" y2="544.90" stroke="#111" stroke-width="1.35"/>
<line x1="475.60" y1="597.80" x2="475.60" y2="605.90" stroke="#111" stroke-width="1.35"/>
<line x1="468.30" y1="605.90" x2="482.90" y2="605.90" stroke="#111" stroke-width="1.35"/>
<rect x="449.80" y="580.70" width="51.60" height="17.10" fill="none" stroke="#111" stroke-width="1.35"/>
<line x1="449.80" y1="594.70" x2="501.40" y2="594.70" stroke="#111" stroke-width="1.35"/>
<text x="343.80" y="632.00" font-family="&quot;Liberation Serif&quot;, serif" font-size="12.8" font-weight="bold" text-anchor="middle" >Medium</text>
<text x="410.00" y="632.00" font-family="&quot;Liberation Serif&quot;, serif" font-size="12.8" font-weight="bold" text-anchor="middle" >BC</text>
<text x="475.60" y="632.00" font-family="&quot;Liberation Serif&quot;, serif" font-size="12.8" font-weight="bold" text-anchor="middle" >E2</text>
<text x="0" y="0" transform="translate(275.40,543.50) rotate(-90)" font-family="&quot;Liberation Serif&quot;, serif" font-size="13.8" font-weight="bold" text-anchor="middle">MDC (ng/mL)</text>
</svg>
</body></html>
